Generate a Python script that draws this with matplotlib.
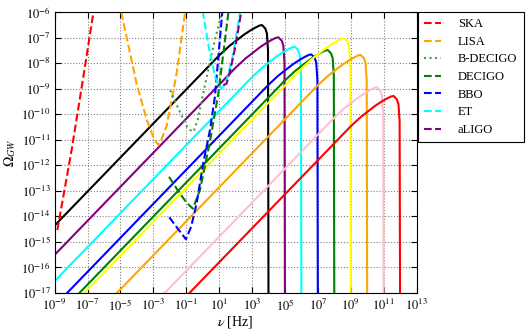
import numpy as np
import matplotlib.pyplot as plt

plt.rcParams['font.family'] = ['Liberation Serif', 'DejaVu Serif']
plt.rcParams['mathtext.fontset'] = 'stix'

# detector sensitivity curves, log10(nu/Hz) and log10(Omega_GW)
ska_lf = [-8.84, -8.4, -7.97, -7.3, -6.62]
ska_lo = [-14.54, -12.95, -11.4, -8.7, -5.9]

lisa_lf = [-4.95, -4.59, -4.02, -3.41, -3.0, -2.8, -2.68, -2.55, -2.19, -1.6, -1.05]
lisa_lo = [-6.0, -7.09, -8.8, -10.2, -10.9, -11.12, -11.2, -11.05, -10.45, -8.45, -5.9]

bdecigo_lf = [-1.98, -1.5, -1.0, -0.75, -0.55, -0.3, 0.03, 0.64, 1.2]
bdecigo_lo = [-9.06, -9.75, -10.45, -10.62, -10.68, -10.2, -9.18, -7.35, -5.9]

decigo_lf = [-2.05, -1.5, -1.0, -0.6, -0.17, 0.4, 0.95, 1.58]
decigo_lo = [-12.45, -13.0, -13.45, -13.7, -12.97, -11.2, -9.18, -5.9]

bbo_lf = [-2.03, -1.5, -1.02, -0.7, -0.37, 0.03, 0.44, 0.74, 1.2]
bbo_lo = [-14.04, -14.5, -14.9, -14.4, -13.49, -11.92, -10.62, -9.31, -5.9]

et_lf = [0.0, 0.35, 0.75, 1.0, 1.15, 1.4, 1.8, 2.3]
et_lo = [-5.95, -7.3, -8.52, -8.92, -8.97, -8.8, -7.8, -5.9]

aligo_lf = [1.25, 1.45, 1.7, 2.0, 2.36]
aligo_lo = [-8.85, -8.8, -8.2, -7.3, -5.9]

# GW spectra (solid), log10(nu/Hz) and log10(Omega_GW)
black_lf = [-9, 1.0, 1.6, 2.0, 2.5, 2.9, 3.2, 3.45, 3.6, 3.8, 3.9, 3.97, 4.0]
black_lo = [-14.36, -7.69, -7.33, -7.13, -6.88, -6.71, -6.60, -6.52, -6.50, -6.63, -6.82, -7.50, -18]
purple_lf = [-9, 2.0, 2.6, 3.0, 3.5, 3.9, 4.2, 4.45, 4.6, 4.8, 4.9, 4.97, 5.0]
purple_lo = [-15.51, -8.17, -7.81, -7.61, -7.36, -7.19, -7.08, -7.00, -6.98, -7.11, -7.30, -7.98, -18]
cyan_lf = [-9, 3.0, 3.6, 4.0, 4.5, 4.9, 5.2, 5.45, 5.6, 5.8, 5.9, 5.97, 6.0]
cyan_lo = [-16.54, -8.54, -8.18, -7.98, -7.73, -7.56, -7.45, -7.37, -7.35, -7.48, -7.67, -8.35, -18]
blue_lf = [-9, 4.0, 4.6, 5.0, 5.5, 5.9, 6.2, 6.45, 6.6, 6.8, 6.9, 6.97, 7.0]
blue_lo = [-17.51, -8.84, -8.48, -8.28, -8.03, -7.86, -7.75, -7.67, -7.65, -7.78, -7.97, -8.65, -18]
green_lf = [-9, 5.0, 5.6, 6.0, 6.5, 6.9, 7.2, 7.45, 7.6, 7.8, 7.9, 7.97, 8.0]
green_lo = [-18.01, -8.67, -8.31, -8.11, -7.86, -7.69, -7.58, -7.50, -7.48, -7.61, -7.80, -8.48, -18]
yellow_lf = [-9, 6.0, 6.6, 7.0, 7.5, 7.9, 8.2, 8.45, 8.6, 8.8, 8.9, 8.97, 9.0]
yellow_lo = [-18.21, -8.21, -7.85, -7.65, -7.40, -7.23, -7.12, -7.04, -7.02, -7.15, -7.34, -8.02, -18]
orange_lf = [-9, 7.0, 7.6, 8.0, 8.5, 8.9, 9.2, 9.45, 9.6, 9.8, 9.9, 9.97, 10.0]
orange_lo = [-19.53, -8.86, -8.50, -8.30, -8.05, -7.88, -7.77, -7.69, -7.67, -7.80, -7.99, -8.67, -18]
pink_lf = [-9, 8.0, 8.6, 9.0, 9.5, 9.9, 10.2, 10.45, 10.6, 10.8, 10.9, 10.97, 11.0]
pink_lo = [-21.47, -10.13, -9.77, -9.57, -9.32, -9.15, -9.04, -8.96, -8.94, -9.07, -9.26, -9.94, -18]
red_lf = [-9, 9.0, 9.6, 10.0, 10.5, 10.9, 11.2, 11.45, 11.6, 11.8, 11.9, 11.97, 12.0]
red_lo = [-22.47, -10.47, -10.11, -9.91, -9.66, -9.49, -9.38, -9.30, -9.28, -9.41, -9.60, -10.28, -18]

solid = [(black_lf, black_lo, 'black'), (purple_lf, purple_lo, 'purple'),
         (cyan_lf, cyan_lo, 'cyan'), (blue_lf, blue_lo, 'blue'),
         (green_lf, green_lo, 'green'), (yellow_lf, yellow_lo, 'yellow'),
         (orange_lf, orange_lo, 'orange'), (pink_lf, pink_lo, 'pink'),
         (red_lf, red_lo, 'red')]

detectors = [('SKA', ska_lf, ska_lo, 'red', '--'),
             ('LISA', lisa_lf, lisa_lo, 'orange', '--'),
             ('B-DECIGO', bdecigo_lf, bdecigo_lo, '#3fa33f', ':'),
             ('DECIGO', decigo_lf, decigo_lo, 'green', '--'),
             ('BBO', bbo_lf, bbo_lo, 'blue', '--'),
             ('ET', et_lf, et_lo, 'cyan', '--'),
             ('aLIGO', aligo_lf, aligo_lo, 'purple', '--')]

fig = plt.figure(figsize=(5.32, 3.31), dpi=100)
ax = fig.add_axes([0.1028, 0.1154, 0.6802, 0.8474])

for lf, lo, c in solid:
    ax.plot(10 ** np.array(lf), 10 ** np.array(lo), color=c, lw=1.5)

for name, lf, lo, c, ls in detectors:
    ax.plot(10 ** np.array(lf), 10 ** np.array(lo), color=c, ls=ls, lw=1.5, label=name)

ax.set_xscale('log')
ax.set_yscale('log')
ax.set_xlim(1e-9, 1e13)
ax.set_ylim(1e-17, 1e-6)
ax.set_xticks([10.0 ** k for k in range(-9, 14, 2)])
ax.set_xticklabels(['$10^{%d}$' % k for k in range(-9, 14, 2)])
ax.set_yticks([10.0 ** k for k in range(-17, -5)])
ax.set_yticklabels(['$10^{%d}$' % k for k in range(-17, -5)])
ax.minorticks_off()
ax.tick_params(direction='in', labelsize=9, length=4, top=True, right=True, pad=3)
ax.tick_params(axis='x', pad=4)
ax.grid(True, ls=':', color='gray', lw=0.8)
ax.set_xlabel(r'$\nu$ [Hz]', fontsize=10, labelpad=0)
ax.set_ylabel(r'$\Omega_{GW}$', fontsize=10, labelpad=2)

leg = fig.legend(loc='upper left', bbox_to_anchor=(418 / 532, 1 - 12 / 331),
                 fontsize=9, handlelength=1.3, handletextpad=1.4,
                 labelspacing=0.45, borderpad=0.5, borderaxespad=0,
                 fancybox=False, edgecolor='black', framealpha=1)
leg.get_frame().set_linewidth(0.8)

fig.savefig('out.png', dpi=100)
